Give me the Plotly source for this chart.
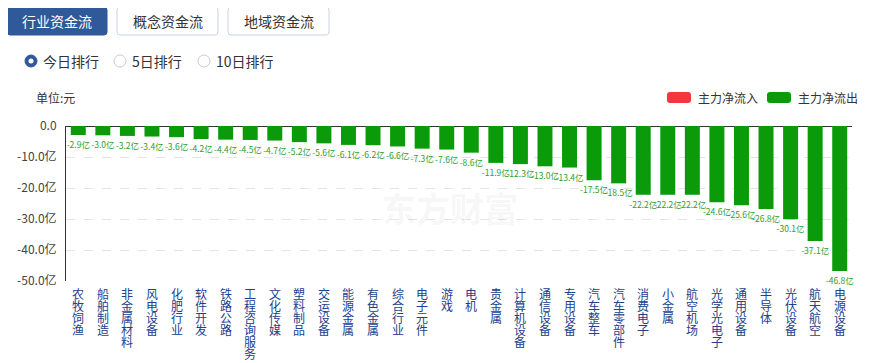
import plotly.graph_objects as go

categories = ["农牧饲渔", "船舶制造", "非金属材料", "风电设备", "化肥行业", "软件开发", "铁路公路",
              "工程咨询服务", "文化传媒", "塑料制品", "交运设备", "能源金属", "有色金属", "综合行业",
              "电子元件", "游戏", "电机", "贵金属", "计算机设备", "通信设备", "专用设备", "汽车整车",
              "汽车零部件", "消费电子", "小金属", "航空机场", "光学光电子", "通用设备", "半导体",
              "光伏设备", "航天航空", "电源设备"]
net_flow = [-2.9, -3.0, -3.2, -3.4, -3.6, -4.2, -4.4, -4.5, -4.7, -5.2, -5.6, -6.1, -6.2, -6.6,
            -7.3, -7.6, -8.6, -11.9, -12.3, -13.0, -13.4, -17.5, -18.5, -22.2, -22.2, -22.2,
            -24.6, -25.6, -26.8, -30.1, -37.1, -46.8]
y_ticks = [0, -10, -20, -30, -40, -50]
y_tick_labels = ["0.0", "-10.0亿", "-20.0亿", "-30.0亿", "-40.0亿", "-50.0亿"]
tabs = ["行业资金流", "概念资金流", "地域资金流"]
ranks = ["今日排行", "5日排行", "10日排行"]
legend_items = ["主力净流入", "主力净流出"]

OFF = 8  # page body margin
W, H = 869 - OFF, 363 - OFF
L, R, T, B = 66 - OFF, 17, 126 - OFF, 82
PW, PH = W - L - R, H - T - B
FONT = "Noto Sans CJK SC, Microsoft YaHei, sans-serif"
GREEN = "#0a9a0a"
RED = "#f2383d"
BLUE = "#2f5998"


def px(x):
    return (x - OFF - L) / PW


def py(y):
    return 1 - (y - OFF - T) / PH


def rrect(x0, y0, x1, y1, r):
    rx, ry = r / PW, r / PH
    a0, a1, b0, b1 = px(x0), px(x1), py(y1), py(y0)
    return (f"M{a0+rx},{b0} L{a1-rx},{b0} Q{a1},{b0} {a1},{b0+ry} L{a1},{b1-ry} "
            f"Q{a1},{b1} {a1-rx},{b1} L{a0+rx},{b1} Q{a0},{b1} {a0},{b1-ry} "
            f"L{a0},{b0+ry} Q{a0},{b0} {a0+rx},{b0} Z")


fig = go.Figure()
fig.add_trace(go.Bar(
    x=categories, y=net_flow, marker=dict(color=GREEN, line=dict(width=0)),
    text=[f"{v:.1f}亿" for v in net_flow], textposition="outside",
    textfont=dict(color="#2e9e2e", size=8.5, family=FONT),
    constraintext="none", cliponaxis=False, hoverinfo="skip", showlegend=False,
))

shapes = []
annotations = []

# tabs
tab_x = [(7, 107), (117, 218), (228, 329)]
for i, (name, (x0, x1)) in enumerate(zip(tabs, tab_x)):
    active = i == 0
    shapes.append(dict(type="path", xref="paper", yref="paper", path=rrect(x0, 7, x1, 35, 3),
                       fillcolor=BLUE if active else "white",
                       line=dict(color=BLUE if active else "#c9d3e2", width=1)))
    annotations.append(dict(xref="paper", yref="paper", x=px((x0 + x1) / 2), y=py(21),
                            text=name, showarrow=False, xanchor="center", yanchor="middle",
                            font=dict(size=14, color="white" if active else "#333", family=FONT)))

# radio buttons
radio_x = [31, 120, 204]
for i, (name, cx) in enumerate(zip(ranks, radio_x)):
    r = 6
    if i == 0:
        shapes.append(dict(type="circle", xref="paper", yref="paper",
                           x0=px(cx - r), x1=px(cx + r), y0=py(61 + r), y1=py(61 - r),
                           fillcolor=BLUE, line=dict(color=BLUE, width=1)))
        shapes.append(dict(type="circle", xref="paper", yref="paper",
                           x0=px(cx - 2.5), x1=px(cx + 2.5), y0=py(61 + 2.5), y1=py(61 - 2.5),
                           fillcolor="white", line=dict(color="white", width=0)))
    else:
        shapes.append(dict(type="circle", xref="paper", yref="paper",
                           x0=px(cx - r), x1=px(cx + r), y0=py(61 + r), y1=py(61 - r),
                           fillcolor="white", line=dict(color="#c8ccd4", width=1)))
    annotations.append(dict(xref="paper", yref="paper", x=px(cx + 10), y=py(61),
                            text=name, showarrow=False, xanchor="left", yanchor="middle",
                            font=dict(size=14, color="#333", family=FONT)))

# unit label
annotations.append(dict(xref="paper", yref="paper", x=px(34), y=py(97), text="单位:元",
                        showarrow=False, xanchor="left", yanchor="middle",
                        font=dict(size=12, color="#333", family=FONT)))

# legend
for name, x0, col in zip(legend_items, [667, 767], [RED, GREEN]):
    shapes.append(dict(type="path", xref="paper", yref="paper", path=rrect(x0, 92, x0 + 24, 103, 3),
                       fillcolor=col, line=dict(color=col, width=0)))
    annotations.append(dict(xref="paper", yref="paper", x=px(x0 + 29), y=py(97.5), text=name,
                            showarrow=False, xanchor="left", yanchor="middle",
                            font=dict(size=12, color="#333", family=FONT)))

# watermark
annotations.append(dict(xref="paper", yref="paper", x=px(450), y=py(207), text="<b>东方财富</b>",
                        showarrow=False, xanchor="center", yanchor="middle",
                        font=dict(size=34, color="rgba(0,0,0,0.05)", family=FONT)))

# vertical category labels, one character per line, placed on the category axis
for cat in categories:
    for j, ch in enumerate(cat):
        annotations.append(dict(xref="x", yref="paper", x=cat, y=0, yshift=-(12 + j * 12),
                                text=ch, showarrow=False, xanchor="center", yanchor="middle",
                                font=dict(size=12, color="#22408c", family=FONT)))

fig.update_layout(
    width=W, height=H, autosize=False,
    margin=dict(l=L, r=R, t=T, b=B, pad=0),
    paper_bgcolor="white", plot_bgcolor="white",
    bargap=0.39,
    font=dict(family=FONT, color="#333"),
    shapes=shapes, annotations=annotations,
    xaxis=dict(showticklabels=False, automargin=False,
               showgrid=False, showline=False, ticks="", zeroline=False),
    yaxis=dict(range=[-50, 0], tickvals=y_ticks, ticktext=y_tick_labels, automargin=False,
               tickfont=dict(size=12, color="#444", family=FONT),
               showgrid=True, gridcolor="#e4e4e4", griddash="dash", gridwidth=1,
               zeroline=True, zerolinecolor="#333", zerolinewidth=1,
               showline=True, linecolor="#333", linewidth=1, ticks="", ticklabelstandoff=6),
)

fig.write_html("out.html")
